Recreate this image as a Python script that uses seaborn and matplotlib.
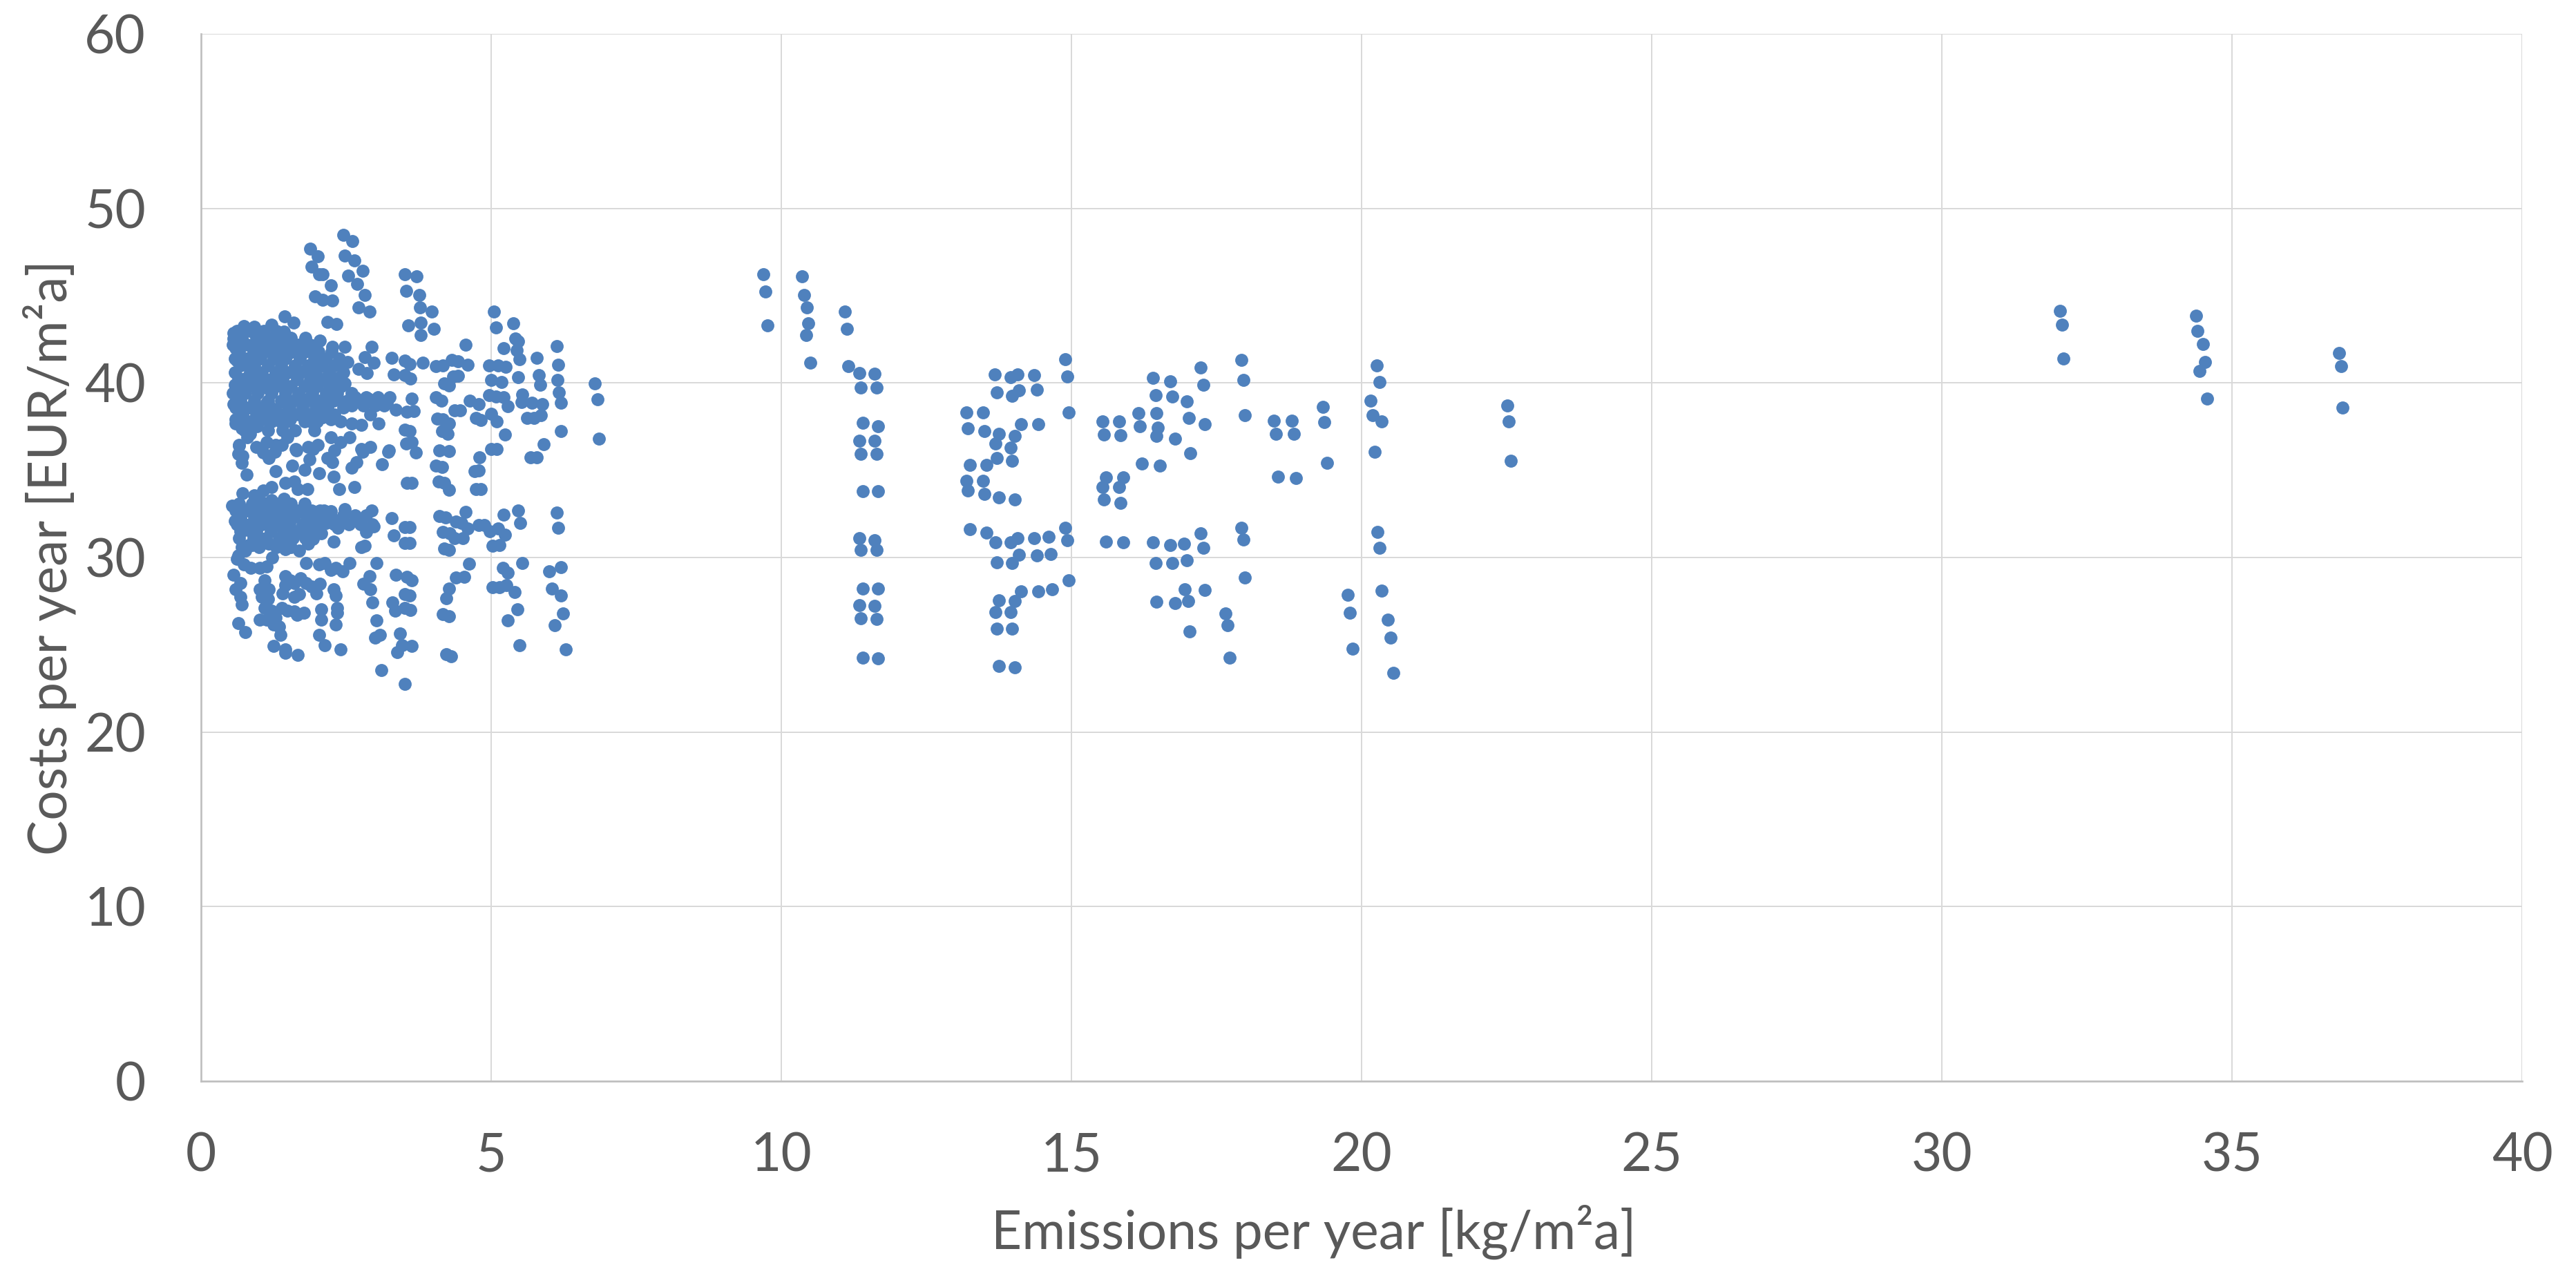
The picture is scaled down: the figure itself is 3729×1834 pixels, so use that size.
import pandas as pd
import matplotlib
matplotlib.use('Agg')
import matplotlib.pyplot as plt
import seaborn as sns

# Emissions [kg/m2a], costs [EUR/m2a]
low_emission = [
    (2.45, 48.50), (2.61, 48.11), (1.88, 47.71), (2.01, 47.25), (1.91, 46.66), (2.04, 46.23), (2.10, 46.23),
    (2.24, 45.60), (2.48, 47.29), (2.64, 47.00), (2.79, 46.42), (2.54, 46.15), (2.69, 45.67), (2.82, 45.03),
    (2.71, 44.33), (2.90, 44.07), (1.96, 44.97), (2.10, 44.78), (2.26, 44.74), (2.18, 43.49), (2.33, 43.37),
    (1.44, 43.81), (1.59, 43.46),
    (3.51, 46.23), (3.72, 46.10), (3.53, 45.27), (3.76, 45.02), (3.77, 44.32), (3.98, 44.08), (3.57, 43.31),
    (3.79, 43.44), (4.01, 43.11), (3.79, 42.74), (4.56, 42.18), (5.05, 44.08), (5.08, 43.17), (5.38, 43.42),
    (5.42, 42.54), (5.46, 42.37), (5.22, 41.99), (5.44, 41.88), (5.49, 41.35), (5.46, 40.34), (5.78, 41.42),
    (5.82, 40.46), (5.85, 39.90), (6.13, 42.10), (6.16, 41.05), (6.14, 40.17), (6.17, 39.47), (6.20, 38.85),
    (6.79, 39.97), (6.83, 39.08), (6.86, 36.80), (6.20, 37.24), (5.91, 36.50),
    (3.51, 41.29), (3.60, 41.09), (3.82, 41.15), (3.51, 40.46), (3.61, 40.27), (4.05, 40.96), (4.17, 41.02),
    (4.32, 41.33), (4.43, 41.25), (4.59, 41.04), (4.35, 40.36), (4.43, 40.39), (4.19, 39.97), (4.27, 39.84),
    (4.96, 41.02), (5.12, 41.02), (5.25, 40.92), (5.00, 40.17), (5.18, 40.06),
    (3.63, 39.11), (4.05, 39.18), (4.14, 39.00), (4.63, 39.00), (4.78, 38.78), (4.96, 39.31), (5.08, 39.24),
    (5.22, 39.18), (5.54, 39.35), (5.52, 38.91), (5.70, 38.85), (5.88, 38.78), (5.28, 38.65),
    (3.55, 38.34), (3.67, 38.38), (4.37, 38.42), (4.47, 38.42), (4.07, 37.95), (4.17, 37.92), (4.27, 37.66),
    (4.74, 37.99), (4.82, 37.86), (5.00, 38.25), (5.10, 37.79), (5.62, 37.99), (5.74, 37.99), (5.86, 38.15),
    (3.51, 37.33), (3.59, 37.26), (4.15, 37.26), (4.25, 37.07), (5.24, 37.03), (3.53, 36.54), (3.63, 36.60),
    (3.70, 36.01), (4.11, 36.14), (4.27, 36.10), (4.80, 35.75), (5.00, 36.21), (5.10, 36.21), (5.68, 35.75),
    (5.78, 35.75),
    (4.72, 34.95), (4.05, 35.28), (4.15, 35.18), (4.78, 34.99), (3.55, 34.29), (3.63, 34.29), (4.09, 34.36),
    (4.19, 34.29), (4.27, 33.87), (4.74, 33.90), (4.82, 33.90), (4.11, 32.38), (4.21, 32.31), (4.56, 32.62),
    (4.39, 32.05), (4.49, 31.98), (4.59, 31.65), (4.17, 31.45), (4.29, 31.39), (4.37, 31.12), (4.51, 31.12),
    (4.19, 30.50), (4.27, 30.43), (4.78, 31.85), (4.88, 31.85), (4.98, 31.52), (5.12, 31.65), (5.24, 31.32),
    (5.02, 30.66), (5.14, 30.73), (5.22, 32.44), (5.47, 32.71), (5.50, 31.96), (6.13, 32.58), (6.16, 31.69),
    (3.51, 31.76), (3.59, 31.76), (3.51, 30.83), (3.59, 30.83), (4.62, 29.63), (4.39, 28.84), (4.53, 28.88),
    (4.27, 28.22), (4.23, 27.66), (4.17, 26.77), (4.27, 26.64), (4.23, 24.46), (4.31, 24.33), (5.20, 29.41),
    (5.28, 29.11), (5.02, 28.31), (5.14, 28.29), (5.26, 28.42), (5.40, 28.02), (5.53, 29.67), (5.45, 27.04),
    (5.29, 26.40), (5.49, 24.99), (6.00, 29.19), (6.20, 29.44), (6.05, 28.20), (6.20, 27.84), (6.24, 26.81),
    (6.09, 26.14), (6.28, 24.75), (3.55, 28.88), (3.63, 28.71), (3.51, 27.89), (3.59, 27.83), (3.51, 27.10),
    (3.61, 26.99), (3.43, 25.65), (3.47, 24.99), (3.63, 24.92), (3.51, 22.75),
    (3.28, 32.25), (3.32, 31.26), (3.36, 29.01), (3.30, 27.43), (3.34, 26.97), (3.38, 24.59), (3.11, 23.54),
    (0.66, 36.40), (0.64, 35.94), (0.72, 35.81), (0.70, 35.41), (0.78, 34.75), (1.07, 36.01), (1.17, 35.68),
    (1.27, 36.07), (1.39, 36.47), (1.29, 34.95), (1.64, 36.14), (1.57, 35.28), (1.79, 35.02), (1.93, 36.20),
    (1.87, 35.61), (2.04, 34.82), (2.28, 34.62), (2.18, 35.68), (2.30, 36.14), (2.26, 35.48), (2.60, 35.15),
    (2.68, 35.48), (2.78, 36.07), (3.12, 35.35), (3.23, 36.07), (1.45, 34.29), (1.61, 34.36), (1.83, 33.90),
    (1.67, 33.90), (2.38, 33.90), (2.64, 34.03), (1.21, 34.03), (1.07, 33.83), (0.72, 33.70), (0.92, 33.57),
    (0.54, 32.97), (0.82, 32.77), (0.58, 32.11), (0.72, 31.98), (0.68, 31.52), (0.86, 31.52), (1.05, 33.17),
    (1.21, 33.30), (1.33, 32.77), (1.43, 33.37), (1.53, 32.64), (1.01, 32.25), (1.17, 31.98), (1.31, 32.18),
    (1.45, 31.85), (1.61, 32.38), (1.73, 32.64), (1.97, 32.38), (2.05, 32.71), (1.87, 31.85), (2.01, 31.72),
    (2.24, 32.64), (2.48, 32.77), (2.42, 32.18), (2.36, 31.72), (2.28, 30.93), (2.16, 31.98), (2.07, 31.39),
    (2.72, 32.05), (2.94, 32.71), (2.98, 31.78), (2.84, 31.45), (2.76, 30.60), (2.82, 30.66),
    (1.65, 31.45), (1.77, 31.59), (1.53, 31.06), (1.37, 30.93), (1.17, 30.79), (1.05, 31.06), (0.88, 30.73),
    (0.82, 30.73), (1.85, 30.79), (1.93, 31.06), (1.69, 30.40), (1.45, 30.47), (1.23, 30.00), (0.76, 30.40),
    (0.64, 30.13), (0.62, 29.94),
    (0.74, 29.61), (0.86, 29.41), (1.01, 29.41), (1.13, 29.48), (0.56, 29.01), (0.68, 28.55), (0.60, 28.16),
    (0.68, 27.76), (0.70, 27.30), (1.09, 28.68), (1.01, 28.16), (1.17, 28.16), (1.05, 27.76), (1.15, 27.63),
    (1.45, 28.95), (1.53, 28.68), (1.61, 28.55), (1.71, 28.82), (1.81, 28.55), (1.45, 28.42), (1.41, 27.96),
    (1.61, 27.76), (1.69, 27.89), (1.91, 28.35), (1.99, 27.96), (2.05, 28.49),
    (1.81, 29.67), (2.03, 29.61), (2.13, 29.67), (2.24, 29.28), (2.32, 29.41), (2.44, 29.21), (2.56, 29.67),
    (2.28, 28.16), (2.32, 27.83), (2.34, 27.10), (2.34, 26.84), (2.32, 26.18), (2.40, 24.73), (2.07, 27.04),
    (2.07, 26.44), (2.03, 25.58), (2.13, 24.99),
    (2.90, 28.95), (2.80, 28.49), (2.92, 28.16), (3.02, 29.67), (2.95, 27.43), (3.02, 26.38), (3.00, 25.39),
    (3.08, 25.58),
    (1.09, 27.10), (1.21, 26.97), (1.29, 26.57), (1.35, 26.04), (1.25, 26.18), (1.01, 26.44), (1.13, 26.44),
    (1.39, 27.10), (1.49, 26.97), (1.65, 26.71), (1.77, 26.84), (1.61, 26.90), (0.64, 26.24), (0.76, 25.72),
    (1.25, 24.92), (1.45, 24.73), (1.45, 24.53), (1.67, 24.40), (1.37, 25.58),
    (0.56, 42.87), (0.56, 42.54), (0.74, 43.27), (0.92, 43.20), (1.05, 42.94), (1.21, 43.33), (1.43, 42.94),
    (1.45, 42.74), (0.60, 42.01), (0.68, 42.08), (0.62, 41.29), (0.72, 41.09), (0.86, 41.42), (1.05, 42.14),
    (1.17, 41.88), (1.29, 42.01), (1.39, 42.08), (1.49, 41.62), (1.61, 42.14), (1.75, 42.21), (1.93, 42.08),
    (2.05, 42.41), (2.05, 41.35), (1.97, 40.82), (1.93, 40.03), (2.16, 40.23), (2.26, 42.08), (2.48, 42.08),
    (2.40, 41.09), (2.52, 41.22), (2.34, 40.30), (2.48, 39.97), (2.72, 40.82), (2.86, 40.56), (2.94, 42.08),
    (2.82, 41.48), (2.98, 41.15), (3.28, 41.42), (3.32, 40.50),
    (0.64, 40.30), (0.58, 39.90), (0.70, 39.50), (0.78, 40.30), (0.90, 39.90), (1.05, 40.03), (1.17, 39.64),
    (1.35, 40.03), (1.49, 39.77), (1.61, 40.56), (1.77, 40.69),
    (0.56, 38.78), (0.60, 37.92), (0.76, 38.58), (0.90, 38.71), (1.13, 38.85), (1.29, 38.45), (1.45, 38.85),
    (1.65, 39.11), (1.85, 39.11), (2.01, 38.78), (2.20, 38.98), (2.36, 39.11), (2.52, 38.98), (2.72, 39.04),
    (2.88, 39.11), (3.04, 39.04), (3.20, 38.85), (3.36, 38.45),
    (0.60, 37.66), (0.70, 37.40), (0.85, 37.07), (0.97, 37.53), (1.09, 37.92), (1.25, 38.12), (1.37, 37.79),
    (1.53, 37.92), (1.69, 38.19), (1.89, 37.79), (2.09, 38.05), (2.24, 37.92), (2.40, 37.79), (2.60, 37.66),
    (2.76, 37.59), (2.92, 38.19), (3.06, 37.66),
    (0.66, 36.47), (0.80, 36.87), (0.95, 36.34), (1.13, 36.60), (1.29, 36.47), (1.49, 36.87), (1.63, 36.21),
    (1.85, 36.34), (2.01, 36.47), (2.24, 36.87), (2.40, 36.60), (2.56, 36.87), (2.76, 36.21), (2.92, 36.34),
    (3.24, 36.14),
]

# overlapping markers in the solid core of the low-emission cloud
low_emission_core = [
    (0.62, 43.0), (0.85, 43.0), (1.08, 43.0), (1.30, 43.0),
    (0.70, 42.6), (0.95, 42.6), (1.15, 42.6), (1.35, 42.6), (1.55, 42.6), (1.80, 42.6),
    (0.55, 42.2), (0.80, 42.2), (1.00, 42.2), (1.22, 42.2), (1.45, 42.2), (1.68, 42.2), (1.88, 42.2),
    (0.66, 41.8), (0.90, 41.8), (1.10, 41.8), (1.33, 41.8), (1.58, 41.8), (1.80, 41.8), (2.02, 41.8), (2.25, 41.8),
    (0.58, 41.4), (0.78, 41.4), (1.02, 41.4), (1.25, 41.4), (1.45, 41.4), (1.70, 41.4), (1.95, 41.4), (2.15, 41.4),
    (2.38, 41.4),
    (0.68, 41.0), (0.92, 41.0), (1.15, 41.0), (1.38, 41.0), (1.62, 41.0), (1.85, 41.0), (2.08, 41.0), (2.30, 41.0),
    (0.58, 40.6), (0.85, 40.6), (1.05, 40.6), (1.28, 40.6), (1.50, 40.6), (1.72, 40.6), (1.98, 40.6), (2.20, 40.6),
    (2.45, 40.6),
    (0.70, 40.2), (0.95, 40.2), (1.20, 40.2), (1.40, 40.2), (1.65, 40.2), (1.88, 40.2), (2.10, 40.2), (2.32, 40.2),
    (0.62, 39.8), (0.82, 39.8), (1.08, 39.8), (1.30, 39.8), (1.55, 39.8), (1.78, 39.8), (2.00, 39.8), (2.22, 39.8),
    (2.42, 39.8),
    (0.55, 39.4), (0.76, 39.4), (0.98, 39.4), (1.22, 39.4), (1.45, 39.4), (1.68, 39.4), (1.92, 39.4), (2.15, 39.4),
    (2.35, 39.4), (2.60, 39.4),
    (0.68, 39.0), (0.92, 39.0), (1.15, 39.0), (1.38, 39.0), (1.60, 39.0), (1.82, 39.0), (2.05, 39.0), (2.28, 39.0),
    (0.60, 38.6), (0.82, 38.6), (1.05, 38.6), (1.20, 38.6), (1.52, 38.6), (1.75, 38.6), (1.98, 38.6), (2.18, 38.6),
    (2.45, 38.6),
    (0.72, 38.2), (0.95, 38.2), (1.18, 38.2), (1.42, 38.2), (1.62, 38.2), (1.85, 38.2), (2.05, 38.2), (2.30, 38.2),
    (0.65, 37.8), (0.85, 37.8), (1.22, 37.8), (1.48, 37.8), (1.78, 37.8), (2.00, 37.8),
    (0.75, 37.3), (1.15, 37.3), (1.40, 37.3), (1.62, 37.3), (1.95, 37.3),
    (2.65, 39.2), (2.85, 39.2), (3.05, 39.2), (3.25, 39.2), (2.60, 38.7), (2.80, 38.7), (3.00, 38.7), (3.15, 38.7),
    (0.65, 33.1), (0.88, 33.1), (1.12, 33.1), (1.35, 33.1), (1.55, 33.1), (1.78, 33.1),
    (0.60, 32.7), (0.80, 32.7), (1.00, 32.7), (1.22, 32.7), (1.45, 32.7), (1.68, 32.7), (1.90, 32.7), (2.12, 32.7),
    (0.68, 32.3), (0.92, 32.3), (1.12, 32.3), (1.38, 32.3), (1.58, 32.3), (1.82, 32.3), (2.02, 32.3), (2.25, 32.3),
    (0.62, 31.9), (0.85, 31.9), (1.05, 31.9), (1.28, 31.9), (1.52, 31.9), (1.75, 31.9), (1.95, 31.9),
    (0.70, 31.5), (0.95, 31.5), (1.20, 31.5), (1.42, 31.5), (1.62, 31.5), (1.85, 31.5),
    (0.65, 31.1), (0.90, 31.1), (1.12, 31.1), (1.35, 31.1), (1.58, 31.1), (1.80, 31.1),
    (0.70, 30.6), (1.00, 30.6), (1.30, 30.6), (1.55, 30.6),
    (2.45, 32.4), (2.65, 32.4), (2.85, 32.4), (2.30, 31.9), (2.55, 31.9), (2.75, 31.9), (2.95, 31.9),
]

mid_emission = [
    (9.69, 46.24), (9.73, 45.25), (9.76, 43.29), (10.36, 46.10), (10.39, 45.02), (10.44, 44.32), (10.47, 43.42),
    (10.43, 42.75), (10.50, 41.16), (11.10, 44.07), (11.13, 43.10), (11.16, 40.96), (11.34, 40.56), (11.61, 40.52),
    (11.37, 39.74), (11.64, 39.74), (11.40, 37.71), (11.67, 37.53), (11.34, 36.67), (11.61, 36.67), (11.37, 35.93),
    (11.64, 35.93), (11.40, 33.81), (11.67, 33.81), (11.34, 31.09), (11.61, 30.98), (11.37, 30.45), (11.64, 30.45),
    (11.40, 28.21), (11.67, 28.21), (11.34, 27.27), (11.61, 27.23), (11.37, 26.53), (11.64, 26.46), (11.40, 24.27),
    (11.67, 24.23),
    (13.68, 40.50), (13.95, 40.34), (14.07, 40.50), (14.36, 40.43), (13.72, 39.46), (13.98, 39.27), (14.10, 39.58),
    (14.40, 39.60), (14.89, 41.35), (14.93, 40.36), (14.95, 38.33), (13.19, 38.33), (13.48, 38.33), (13.22, 37.39),
    (13.50, 37.23), (14.13, 37.64), (14.43, 37.64), (13.75, 37.09), (14.02, 36.97), (13.69, 36.53), (13.95, 36.31),
    (13.72, 35.70), (13.98, 35.54), (13.25, 35.29), (13.54, 35.29), (13.19, 34.41), (13.48, 34.41), (13.22, 33.84),
    (13.50, 33.66), (13.75, 33.43), (14.02, 33.31), (13.25, 31.62), (13.54, 31.44), (13.69, 30.87), (13.95, 30.87),
    (14.07, 31.10), (14.36, 31.10), (14.61, 31.19), (14.89, 31.69), (14.93, 30.98), (13.72, 29.74), (13.98, 29.69),
    (14.10, 30.15), (14.40, 30.11), (14.64, 30.20), (14.95, 28.70), (14.13, 28.08), (14.43, 28.08), (14.67, 28.19),
    (13.75, 27.55), (14.02, 27.50), (13.69, 26.88), (13.95, 26.88), (13.72, 25.94), (13.98, 25.91), (13.75, 23.77),
    (14.02, 23.72),
    (15.53, 37.80), (15.82, 37.80), (15.56, 37.06), (15.85, 37.02), (15.60, 34.60), (15.89, 34.60), (15.53, 34.04),
    (15.82, 34.04), (15.56, 33.33), (15.85, 33.13), (15.60, 30.93), (15.89, 30.87),
    (16.41, 40.29), (16.70, 40.08), (16.45, 39.30), (16.74, 39.21), (16.99, 38.95), (17.23, 40.87), (17.27, 39.88),
    (16.15, 38.29), (16.46, 38.29), (17.02, 38.01), (16.18, 37.52), (16.49, 37.43), (16.47, 36.97), (16.78, 36.81),
    (17.30, 37.62), (17.05, 35.96), (16.21, 35.40), (16.52, 35.27), (17.93, 41.33), (17.96, 40.17), (17.99, 38.15),
    (18.49, 37.83), (18.80, 37.83), (18.52, 37.09), (18.83, 37.07), (18.56, 34.65), (18.87, 34.57), (19.33, 38.61),
    (19.36, 37.75), (19.40, 35.43), (20.26, 40.99), (20.31, 40.06), (20.16, 39.00), (20.19, 38.17), (20.34, 37.78),
    (20.23, 36.07), (22.51, 38.70), (22.54, 37.78), (22.57, 35.55),
    (16.41, 30.89), (16.70, 30.70), (16.94, 30.80), (17.23, 31.40), (17.27, 30.56), (16.45, 29.69), (16.74, 29.69),
    (16.99, 29.83), (17.93, 31.69), (17.96, 31.03), (17.99, 28.84), (16.95, 28.19), (17.30, 28.13), (16.47, 27.46),
    (16.78, 27.38), (17.01, 27.50), (17.65, 26.81), (17.69, 26.12), (17.04, 25.75), (17.73, 24.28), (20.27, 31.46),
    (20.31, 30.54), (20.34, 28.12), (19.76, 27.85), (19.80, 26.83), (19.85, 24.79), (20.45, 26.42), (20.50, 25.41),
    (20.55, 23.40),
]

high_emission = [
    (32.04, 44.13), (32.07, 43.33), (32.10, 41.38), (34.38, 43.86), (34.41, 42.98), (34.50, 42.23),
    (34.53, 41.22), (34.44, 40.69), (34.57, 39.12), (36.85, 41.70), (36.88, 40.97), (36.91, 38.58),
]

x_ticks = [0, 5, 10, 15, 20, 25, 30, 35, 40]
y_ticks = [0, 10, 20, 30, 40, 50, 60]

points = pd.DataFrame(low_emission + low_emission_core + mid_emission + high_emission,
                      columns=['emissions', 'costs'])

sns.set_theme(style='white')
plt.rcParams['font.family'] = ['Lato', 'DejaVu Sans']

text_color = '#595959'
W, H, DPI = 3729, 1834, 240
fig = plt.figure(figsize=(W / DPI, H / DPI), dpi=DPI)
ax = fig.add_axes([291 / W, 1 - 1565 / H, 3360 / W, 1516 / H])

sns.scatterplot(data=points, x='emissions', y='costs', color='#4F81BD', s=32,
                linewidth=0, alpha=1, ax=ax, zorder=3)

ax.set_xlim(0, 40)
ax.set_ylim(0, 60)
ax.set_xticks(x_ticks)
ax.set_yticks(y_ticks)
ax.grid(True, color='#d9d9d9', linewidth=0.6)
ax.set_axisbelow(True)
for side in ['top', 'right']:
    ax.spines[side].set_visible(False)
for side in ['left', 'bottom']:
    ax.spines[side].set_color('#bfbfbf')
    ax.spines[side].set_linewidth(0.8)

ax.tick_params(axis='both', length=0, labelsize=23, labelcolor=text_color)
ax.tick_params(axis='y', pad=24)
ax.tick_params(axis='x', pad=22)

ax.set_xlabel('Emissions per year [kg/m²a]', fontsize=23, color=text_color)
ax.set_ylabel('Costs per year [EUR/m²a]', fontsize=23, color=text_color)
ax.xaxis.set_label_coords(0.4795, -0.144)
ax.xaxis.label.set_va('center')
ax.yaxis.set_label_coords(-0.0652, 0.5)
ax.yaxis.label.set_va('center')

fig.savefig('out.png', dpi=DPI, facecolor='white')
plt.close(fig)
